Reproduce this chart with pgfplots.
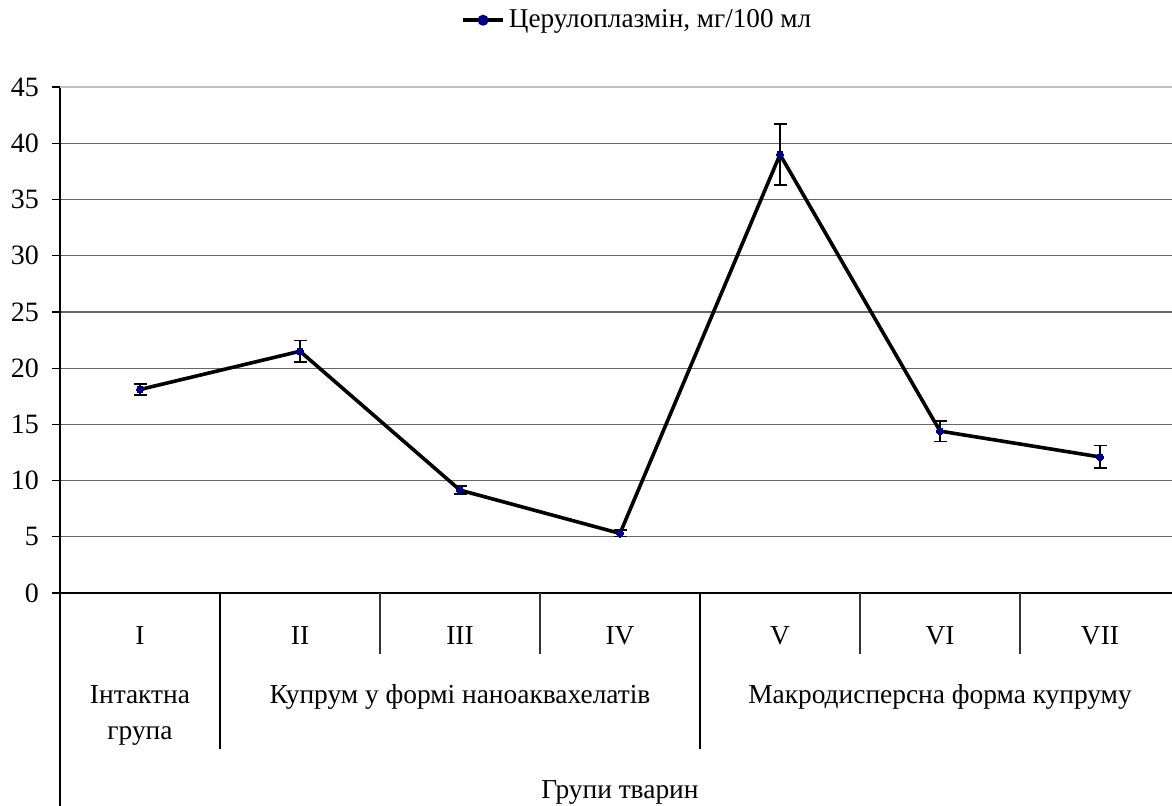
\documentclass[border=0pt]{standalone}
\usepackage{fontspec}
\setmainfont{Liberation Serif}
\usepackage{pgfplots}
\pgfplotsset{compat=1.18}
\definecolor{navy}{RGB}{0,0,128}
\begin{document}
\begin{tikzpicture}
\useasboundingbox (-30pt,-106pt) rectangle (556pt,296.5pt);
\begin{axis}[
 at={(0,0)}, anchor=south west,
 scale only axis, width=556pt, height=253pt,
 xmin=-0.5, xmax=6.45, ymin=0, ymax=45,
 axis x line*=bottom, axis y line*=left,
 axis line style={line width=0.6pt, -},
 xtick=\empty,
 ytick={0,5,...,40},
 extra y ticks={45}, extra y tick style={grid style={black!25, line width=0.6pt}},
 ymajorgrids, grid style={black!60, line width=0.6pt},
 tick align=outside, major tick length=4pt,
 tick style={black, line width=0.6pt},
 yticklabel style={font=\fontsize{14}{16}\selectfont, xshift=-3pt},
 /pgf/number format/assume math mode=true,
 clip=false,
 legend style={draw=none, at={(0.52,1.132)}, anchor=center, font=\fontsize{13.6}{15}\selectfont, inner sep=0pt, fill=none},
 legend image code/.code={\draw[black, line width=1.8pt] (-2pt,0pt) -- (18pt,0pt); \fill[navy] (8pt,0pt) circle (1.8pt);},
]
\addplot[black, line width=1.8pt, mark=*, mark size=1.8pt, mark options={navy, fill=navy, draw=navy, line width=0pt},
  error bars/.cd, y dir=both, y explicit,
  error bar style={black, line width=0.7pt},
  error mark options={rotate=90, mark size=3.25pt, line width=0.7pt, black}]
coordinates {
 (0,18.1) +- (0,0.5)
 (1,21.5) +- (0,0.95)
 (2,9.15) +- (0,0.35)
 (3,5.3) +- (0,0.3)
 (4,39.0) +- (0,2.7)
 (5,14.4) +- (0,0.9)
 (6,12.1) +- (0,1.0)
};
\addlegendentry{Церулоплазмін, мг/100 мл}
% category separators
\draw[black, line width=0.6pt] (axis cs:-0.5,0) -- (axis cs:-0.5,-18.9);
\draw[black, line width=0.6pt] (axis cs:0.5,0) -- (axis cs:0.5,-13.87);
\draw[black, line width=0.6pt] (axis cs:3.5,0) -- (axis cs:3.5,-13.87);
\draw[black!80, line width=0.6pt] (axis cs:1.5,0) -- (axis cs:1.5,-5.42);
\draw[black!80, line width=0.6pt] (axis cs:2.5,0) -- (axis cs:2.5,-5.42);
\draw[black!80, line width=0.6pt] (axis cs:4.5,0) -- (axis cs:4.5,-5.42);
\draw[black!80, line width=0.6pt] (axis cs:5.5,0) -- (axis cs:5.5,-5.42);
\node[font=\fontsize{13.7}{16}\selectfont, anchor=base] at (axis cs:0,-4.62) {I};
\node[font=\fontsize{13.7}{16}\selectfont, anchor=base] at (axis cs:1,-4.62) {II};
\node[font=\fontsize{13.7}{16}\selectfont, anchor=base] at (axis cs:2,-4.62) {III};
\node[font=\fontsize{13.7}{16}\selectfont, anchor=base] at (axis cs:3,-4.62) {IV};
\node[font=\fontsize{13.7}{16}\selectfont, anchor=base] at (axis cs:4,-4.62) {V};
\node[font=\fontsize{13.7}{16}\selectfont, anchor=base] at (axis cs:5,-4.62) {VI};
\node[font=\fontsize{13.7}{16}\selectfont, anchor=base] at (axis cs:6,-4.62) {VII};
\node[font=\fontsize{13.7}{16}\selectfont, anchor=base] at (axis cs:0,-9.87) {Інтактна};
\node[font=\fontsize{13.7}{16}\selectfont, anchor=base] at (axis cs:0,-13.07) {група};
\node[font=\fontsize{13.7}{16}\selectfont, anchor=base] at (axis cs:2,-9.87) {Купрум у формі наноаквахелатів};
\node[font=\fontsize{13.7}{16}\selectfont, anchor=base] at (axis cs:5,-9.87) {Макродисперсна форма купруму};
\node[font=\fontsize{13.7}{16}\selectfont, anchor=base] at (axis cs:3,-18.31) {Групи тварин};
\end{axis}
\end{tikzpicture}
\end{document}
